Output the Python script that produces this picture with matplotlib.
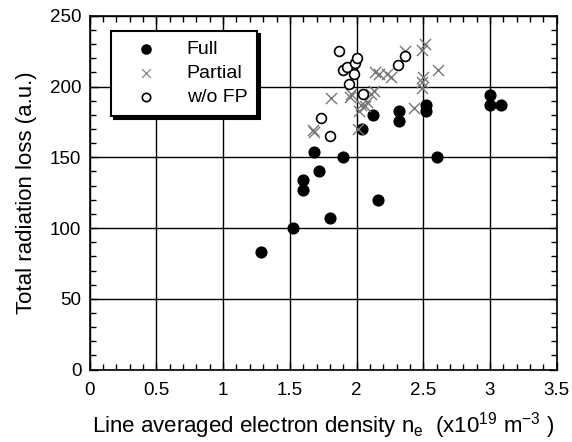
import matplotlib
matplotlib.use("Agg")
import matplotlib.pyplot as plt
from matplotlib.ticker import MultipleLocator

plt.rcParams['font.family'] = ['Liberation Sans', 'DejaVu Sans']
plt.rcParams['mathtext.fontset'] = 'custom'
plt.rcParams['mathtext.rm'] = 'Liberation Sans'
plt.rcParams['mathtext.it'] = 'Liberation Sans'
plt.rcParams['mathtext.bf'] = 'Liberation Sans'

full_x = [1.28, 1.52, 1.60, 1.60, 1.68, 1.72, 1.80, 1.90, 2.04, 2.12, 2.16, 2.32, 2.32, 2.52, 2.52, 2.60, 3.00, 3.00, 3.08]
full_y = [83, 100, 127, 134, 154, 140, 107, 150, 170, 180, 120, 183, 176, 187, 183, 150, 194, 187, 187]

partial_x = [1.67, 1.68, 1.81, 1.95, 1.96, 2.01, 2.02, 2.03, 2.06, 2.08, 2.11, 2.13, 2.14, 2.17, 2.23, 2.26,
             2.36, 2.43, 2.49, 2.51, 2.50, 2.49, 2.49, 2.61]
partial_y = [169, 168, 192, 193, 195, 170, 183, 187, 186, 189, 195, 197, 210, 209, 209, 207,
             225, 185, 226, 230, 207, 203, 199, 212]

wofp_x = [1.73, 1.80, 1.87, 1.90, 1.93, 1.94, 1.98, 1.99, 2.00, 2.05, 2.31, 2.36]
wofp_y = [178, 165, 225, 212, 214, 202, 209, 217, 220, 195, 215, 222]

fig = plt.figure(figsize=(5.72, 4.42), dpi=100)
ax = fig.add_axes([0.157, 0.164, 0.816, 0.8])

ax.set_xlim(0, 3.5)
ax.set_ylim(0, 250)
ax.xaxis.set_major_locator(MultipleLocator(0.5))
ax.xaxis.set_minor_locator(MultipleLocator(0.1))
ax.yaxis.set_major_locator(MultipleLocator(50))
ax.yaxis.set_minor_locator(MultipleLocator(10))
ax.xaxis.set_major_formatter(matplotlib.ticker.FuncFormatter(lambda v, p: f"{v:g}"))
ax.grid(True, which='major', color='black', linewidth=1.0)
ax.set_axisbelow(True)
ax.tick_params(which='both', direction='in', top=True, right=True, labelsize=13.5, width=1.0)
ax.tick_params(axis='x', which='major', length=6, pad=9)
ax.tick_params(axis='y', which='major', length=6, pad=6)
ax.tick_params(which='minor', length=4)
for s in ax.spines.values():
    s.set_linewidth(1.2)

ax.scatter(full_x, full_y, s=60, c='black', marker='o', label='Full', zorder=3)
ax.scatter(partial_x, partial_y, s=64, c='#777777', marker='x', linewidths=1.0, label='Partial', zorder=3)
ax.scatter(wofp_x, wofp_y, s=50, facecolors='white', edgecolors='black', linewidths=1.2,
           marker='o', label='w/o FP', zorder=4)

leg = ax.legend(loc='upper left', bbox_to_anchor=(0.045, 0.957), borderaxespad=0,
                fancybox=False, shadow={'color': 'black', 'alpha': 1.0}, framealpha=1,
                edgecolor='black', fontsize=14, handletextpad=0.8, borderpad=0.5,
                labelspacing=0.32, markerscale=0.85, handlelength=2.6)
leg.get_frame().set_linewidth(1.5)
leg.legend_handles[1].set_sizes([40])
leg.legend_handles[1].set_linewidths([0.8])

ax.set_xlabel(r"Line averaged electron density n$_\mathregular{e}$  (x10$^{19}$ m$^{-3}$ )", fontsize=16, labelpad=8)
ax.set_ylabel("Total radiation loss (a.u.)", fontsize=16, labelpad=9)

fig.savefig("out.png", dpi=100)
